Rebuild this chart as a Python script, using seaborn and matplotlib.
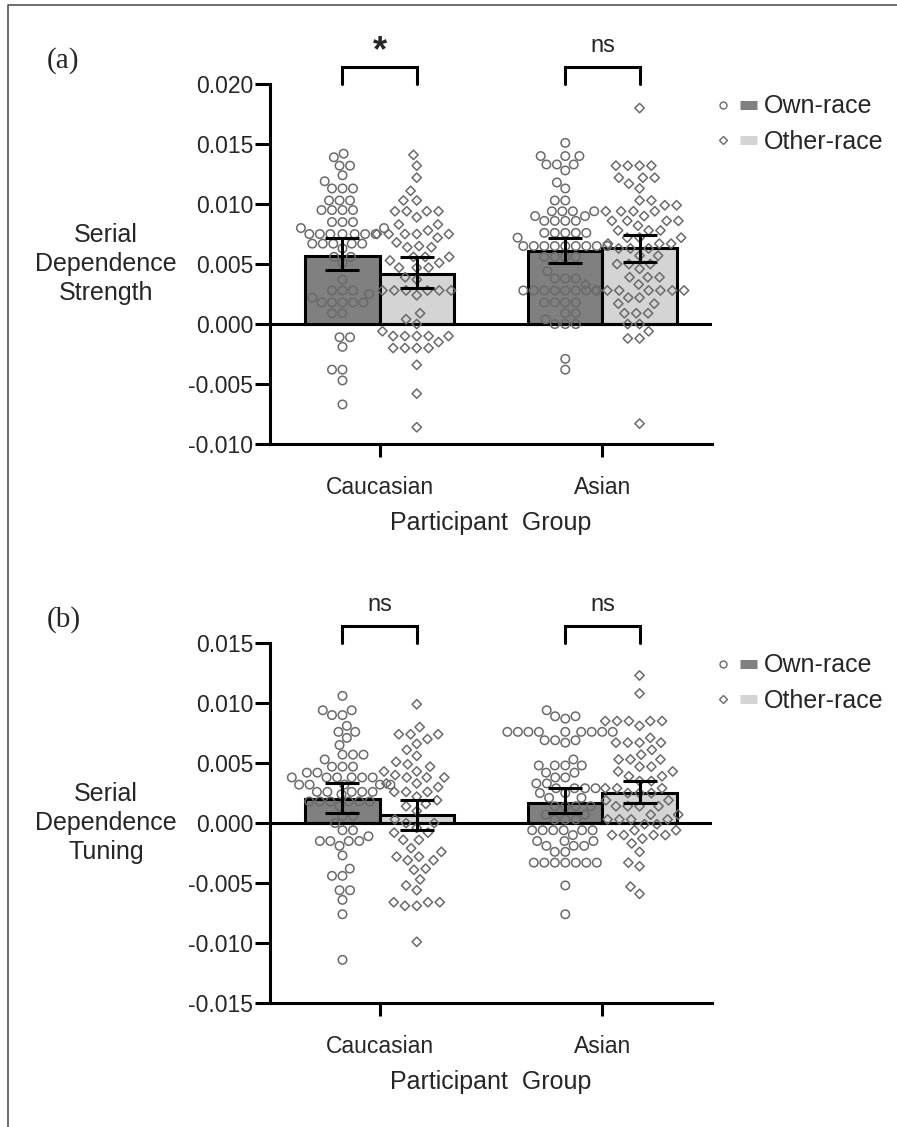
import matplotlib.pyplot as plt
from matplotlib.lines import Line2D
from matplotlib.legend_handler import HandlerTuple
from matplotlib.markers import MarkerStyle
from matplotlib.ticker import FormatStrFormatter
from matplotlib.transforms import Affine2D
import pandas as pd
import seaborn as sns


groups = ['Caucasian', 'Asian']
races = ['Own-race', 'Other-race']

# panel (a): serial dependence strength, one value per participant
cau_own_a = [0.0142, 0.0139, 0.0132, 0.0132, 0.0124, 0.0119, 0.0113, 0.0113, 0.0113,
             0.0103, 0.0103, 0.0103, 0.0095, 0.0095, 0.0095, 0.0095, 0.0085, 0.0085,
             0.0085, 0.0080, 0.0080, 0.0075, 0.0075, 0.0075, 0.0075, 0.0075, 0.0075,
             0.0075, 0.0067, 0.0067, 0.0067, 0.0067, 0.0067, 0.0063, 0.0056, 0.0056,
             0.0051, 0.0037, 0.0028, 0.0028, 0.0028, 0.0025, 0.0022, 0.0018, 0.0018,
             0.0018, 0.0018, 0.0018, 0.0009, 0.0009, -0.0011, -0.0011, -0.0019,
             -0.0038, -0.0038, -0.0047, -0.0067]
cau_oth_a = [0.0141, 0.0132, 0.0122, 0.0111, 0.0103, 0.0103, 0.0094, 0.0094, 0.0094,
             0.0094, 0.0089, 0.0083, 0.0083, 0.0078, 0.0075, 0.0075, 0.0075, 0.0075,
             0.0075, 0.0072, 0.0068, 0.0065, 0.0064, 0.0064, 0.0056, 0.0056, 0.0056,
             0.0053, 0.0051, 0.0047, 0.0047, 0.0047, 0.0039, 0.0037, 0.0028, 0.0028,
             0.0028, 0.0028, 0.0028, 0.0028, 0.0024, 0.0009, 0.0004, 0.0000, -0.0006,
             -0.0010, -0.0010, -0.0010, -0.0010, -0.0010, -0.0015, -0.0020, -0.0020,
             -0.0020, -0.0020, -0.0034, -0.0058, -0.0086]
asi_own_a = [0.0151, 0.0140, 0.0140, 0.0140, 0.0133, 0.0133, 0.0133, 0.0128, 0.0118,
             0.0113, 0.0103, 0.0103, 0.0094, 0.0094, 0.0094, 0.0094, 0.0090, 0.0090,
             0.0086, 0.0086, 0.0086, 0.0086, 0.0076, 0.0076, 0.0076, 0.0076, 0.0076,
             0.0072, 0.0065, 0.0065, 0.0065, 0.0065, 0.0065, 0.0065, 0.0065, 0.0065,
             0.0065, 0.0056, 0.0056, 0.0056, 0.0056, 0.0044, 0.0038, 0.0038, 0.0038,
             0.0028, 0.0028, 0.0028, 0.0028, 0.0028, 0.0028, 0.0028, 0.0028, 0.0018,
             0.0018, 0.0018, 0.0018, 0.0009, 0.0009, 0.0004, 0.0000, 0.0000, 0.0000,
             -0.0029, -0.0038]
asi_oth_a = [0.0180, 0.0132, 0.0132, 0.0132, 0.0132, 0.0122, 0.0122, 0.0122, 0.0117,
             0.0113, 0.0103, 0.0103, 0.0099, 0.0099, 0.0094, 0.0094, 0.0094, 0.0094,
             0.0090, 0.0086, 0.0086, 0.0086, 0.0086, 0.0082, 0.0078, 0.0078, 0.0078,
             0.0072, 0.0072, 0.0072, 0.0067, 0.0067, 0.0067, 0.0063, 0.0063, 0.0063,
             0.0057, 0.0057, 0.0050, 0.0050, 0.0050, 0.0046, 0.0039, 0.0039, 0.0039,
             0.0033, 0.0033, 0.0028, 0.0028, 0.0028, 0.0028, 0.0028, 0.0028, 0.0028,
             0.0022, 0.0022, 0.0017, 0.0017, 0.0009, 0.0009, 0.0009, 0.0000, 0.0000,
             -0.0006, -0.0012, -0.0012, -0.0083]

# panel (b): serial dependence tuning
cau_own_b = [0.0106, 0.0094, 0.0094, 0.0090, 0.0090, 0.0081, 0.0076, 0.0076, 0.0071,
             0.0065, 0.0057, 0.0057, 0.0057, 0.0053, 0.0047, 0.0047, 0.0047, 0.0042,
             0.0042, 0.0038, 0.0038, 0.0038, 0.0038, 0.0038, 0.0038, 0.0032, 0.0032,
             0.0032, 0.0032, 0.0032, 0.0026, 0.0026, 0.0026, 0.0026, 0.0026, 0.0024,
             0.0018, 0.0018, 0.0018, 0.0018, 0.0018, 0.0018, 0.0014, 0.0006, 0.0006,
             0.0000, -0.0006, -0.0006, -0.0011, -0.0015, -0.0015, -0.0015, -0.0015,
             -0.0019, -0.0027, -0.0038, -0.0044, -0.0044, -0.0056, -0.0056, -0.0064,
             -0.0076, -0.0114]
cau_oth_b = [0.0099, 0.0080, 0.0074, 0.0074, 0.0074, 0.0070, 0.0066, 0.0061, 0.0056,
             0.0051, 0.0049, 0.0047, 0.0043, 0.0043, 0.0040, 0.0038, 0.0038, 0.0038,
             0.0033, 0.0033, 0.0030, 0.0026, 0.0026, 0.0026, 0.0022, 0.0019, 0.0016,
             0.0014, 0.0010, 0.0003, 0.0000, 0.0000, -0.0004, -0.0008, -0.0008,
             -0.0014, -0.0014, -0.0021, -0.0024, -0.0028, -0.0028, -0.0031, -0.0031,
             -0.0038, -0.0039, -0.0047, -0.0052, -0.0056, -0.0066, -0.0066, -0.0066,
             -0.0069, -0.0069, -0.0099]
asi_own_b = [0.0094, 0.0089, 0.0089, 0.0087, 0.0076, 0.0076, 0.0076, 0.0076, 0.0076,
             0.0076, 0.0076, 0.0076, 0.0076, 0.0069, 0.0069, 0.0069, 0.0067, 0.0053,
             0.0048, 0.0048, 0.0048, 0.0048, 0.0042, 0.0042, 0.0038, 0.0038, 0.0033,
             0.0033, 0.0029, 0.0029, 0.0029, 0.0029, 0.0025, 0.0025, 0.0021, 0.0021,
             0.0014, 0.0014, 0.0014, 0.0014, 0.0007, 0.0007, 0.0003, 0.0003, 0.0003,
             -0.0006, -0.0006, -0.0006, -0.0006, -0.0006, -0.0006, -0.0010, -0.0015,
             -0.0015, -0.0015, -0.0019, -0.0019, -0.0019, -0.0024, -0.0024, -0.0033,
             -0.0033, -0.0033, -0.0033, -0.0033, -0.0033, -0.0033, -0.0052, -0.0076]
asi_oth_b = [0.0123, 0.0108, 0.0085, 0.0085, 0.0085, 0.0085, 0.0085, 0.0081, 0.0071,
             0.0067, 0.0067, 0.0067, 0.0067, 0.0061, 0.0057, 0.0053, 0.0053, 0.0053,
             0.0047, 0.0047, 0.0043, 0.0043, 0.0039, 0.0039, 0.0035, 0.0035, 0.0029,
             0.0029, 0.0029, 0.0025, 0.0025, 0.0025, 0.0019, 0.0019, 0.0014, 0.0014,
             0.0014, 0.0014, 0.0007, 0.0007, 0.0003, 0.0003, 0.0003, 0.0003, -0.0001,
             -0.0001, -0.0006, -0.0006, -0.0010, -0.0010, -0.0010, -0.0010, -0.0013,
             -0.0017, -0.0024, -0.0033, -0.0036, -0.0053, -0.0059]

# bar means and error bar ends, order: Cau own, Cau other, Asi own, Asi other
mean_a = [0.0057, 0.0042, 0.0061, 0.0063]
low_a = [0.0045, 0.0030, 0.0051, 0.0052]
high_a = [0.0072, 0.0056, 0.0072, 0.0074]
mean_b = [0.0020, 0.0007, 0.0017, 0.0025]
low_b = [0.0008, -0.0006, 0.0008, 0.0017]
high_b = [0.0033, 0.0019, 0.0029, 0.0035]

sig_a = ['*', 'ns']
sig_b = ['ns', 'ns']

DARK = '#808080'
LIGHT = '#d4d4d4'
EDGE = '#6a6a6a'
LW = 2.2

sns.set_style('ticks')
plt.rcParams['font.family'] = ['Liberation Sans', 'DejaVu Sans']
plt.rcParams['axes.unicode_minus'] = False

offset = {'Own-race': -1 / 6, 'Other-race': 1 / 6}


def long_points(cau_own, cau_oth, asi_own, asi_oth):
    parts = []
    for g, r, vals in [('Caucasian', 'Own-race', cau_own), ('Caucasian', 'Other-race', cau_oth),
                       ('Asian', 'Own-race', asi_own), ('Asian', 'Other-race', asi_oth)]:
        parts.append(pd.DataFrame({'group': g, 'race': r, 'value': vals}))
    df = pd.concat(parts, ignore_index=True)
    df['pos'] = df['group'].map(groups.index) + df['race'].map(offset)
    return df


def summary(mean, low, high):
    df = pd.DataFrame({'group': [g for g in groups for _ in races],
                       'race': races * 2, 'mean': mean, 'low': low, 'high': high})
    df['pos'] = df['group'].map(groups.index) + df['race'].map(offset)
    return df


def panel(ax, pts, summ, ylim, yticks, ylabel, sig, bracket):
    sns.barplot(data=summ, x='pos', y='mean', hue='race', hue_order=races,
                palette=[DARK, LIGHT], native_scale=True, orient='x', width=1,
                saturation=1, errorbar=None, edgecolor='k', linewidth=LW,
                legend=False, ax=ax, zorder=1)
    ax.axhline(0, color='k', lw=LW, zorder=2)

    diamond = MarkerStyle('D', transform=Affine2D().scale(0.68))
    for race, marker, size in [('Own-race', 'o', 6.1), ('Other-race', diamond, 7.0)]:
        sns.swarmplot(data=pts[pts['race'] == race], x='pos', y='value',
                      native_scale=True, orient='x', marker=marker, size=size,
                      color=EDGE, facecolor='none', edgecolor=EDGE, linewidth=1.1,
                      ax=ax, zorder=3)

    ax.errorbar(summ['pos'], summ['mean'],
                yerr=[summ['mean'] - summ['low'], summ['high'] - summ['mean']],
                fmt='none', ecolor='k', elinewidth=LW, capsize=12.5, capthick=LW,
                zorder=4)

    # significance brackets between the two bars of each group
    y_leg, y_top, y_txt = bracket
    for gi, label in enumerate(sig):
        x1 = gi + offset['Own-race']
        x2 = gi + offset['Other-race']
        ax.plot([x1, x1, x2, x2], [y_leg, y_top, y_top, y_leg], color='k',
                lw=LW, clip_on=False, solid_joinstyle='miter')
        if label == '*':
            ax.text(gi, y_txt - 0.0008, label, ha='center', va='baseline',
                    fontsize=26, fontweight='bold', clip_on=False)
        else:
            ax.text(gi, y_txt, label, ha='center', va='baseline', fontsize=17,
                    clip_on=False)

    ax.set_xlim(-0.492, 1.492)
    ax.set_ylim(*ylim)
    ax.set_xticks([0, 1], groups)
    ax.set_yticks(yticks)
    ax.yaxis.set_major_formatter(FormatStrFormatter('%.3f'))
    sns.despine(ax=ax)
    for s in ('left', 'bottom'):
        ax.spines[s].set_linewidth(LW)
        ax.spines[s].set_color('k')
    ax.tick_params(axis='y', length=11, width=LW, pad=1, labelsize=16.5, color='k')
    ax.tick_params(axis='x', length=9, width=LW, pad=14, labelsize=16.5, color='k')

    ax.set_ylabel(ylabel, rotation=0, fontsize=18, ha='center', va='center',
                  linespacing=1.25)
    ax.yaxis.set_label_coords(-0.371, 0.5)
    ax.set_xlabel('Participant  Group', fontsize=18, va='center')
    ax.xaxis.set_label_coords(0.5, -0.219)

    handles = [
        (Line2D([], [], marker='o', ls='none', mfc='none', mec=EDGE, ms=5, mew=1),
         Line2D([], [], color=DARK, lw=6.5, solid_capstyle='butt')),
        (Line2D([], [], marker=MarkerStyle('D', transform=Affine2D().scale(0.75)),
                ls='none', mfc='none', mec=EDGE, ms=5, mew=1),
         Line2D([], [], color=LIGHT, lw=6.5, solid_capstyle='butt')),
    ]
    ax.legend(handles, races, handler_map={tuple: HandlerTuple(ndivide=None, pad=0.35)},
              frameon=False, loc='center left', bbox_to_anchor=(1.005, 0.889),
              fontsize=18, handlelength=1.7, handletextpad=0.3, borderpad=0,
              borderaxespad=0, labelspacing=0.45)


fig = plt.figure(figsize=(8.97, 11.27), dpi=100)
ax_a = fig.add_axes([0.3010, 0.6060, 0.4928, 0.3194])
ax_b = fig.add_axes([0.3010, 0.1100, 0.4928, 0.3194])

panel(ax_a, long_points(cau_own_a, cau_oth_a, asi_own_a, asi_oth_a),
      summary(mean_a, low_a, high_a), (-0.010, 0.020),
      [-0.010, -0.005, 0.0, 0.005, 0.010, 0.015, 0.020],
      'Serial\nDependence\nStrength', sig_a, (0.020, 0.0214, 0.0227))
panel(ax_b, long_points(cau_own_b, cau_oth_b, asi_own_b, asi_oth_b),
      summary(mean_b, low_b, high_b), (-0.015, 0.015),
      [-0.015, -0.010, -0.005, 0.0, 0.005, 0.010, 0.015],
      'Serial\nDependence\nTuning', sig_b, (0.015, 0.0164, 0.0177))

fig.text(47 / 897, 1 - 61 / 1127, '(a)', family='Liberation Serif', fontsize=21,
         ha='left', va='center')
fig.text(47 / 897, 1 - 620 / 1127, '(b)', family='Liberation Serif', fontsize=21,
         ha='left', va='center')

# thin frame on the top and left edge of the page
fig.add_artist(Line2D([8 / 897, 8 / 897, 1], [0, 1 - 5 / 1127, 1 - 5 / 1127],
                      color='#555555', lw=1.2, transform=fig.transFigure))

fig.savefig('out.png', dpi=100)
